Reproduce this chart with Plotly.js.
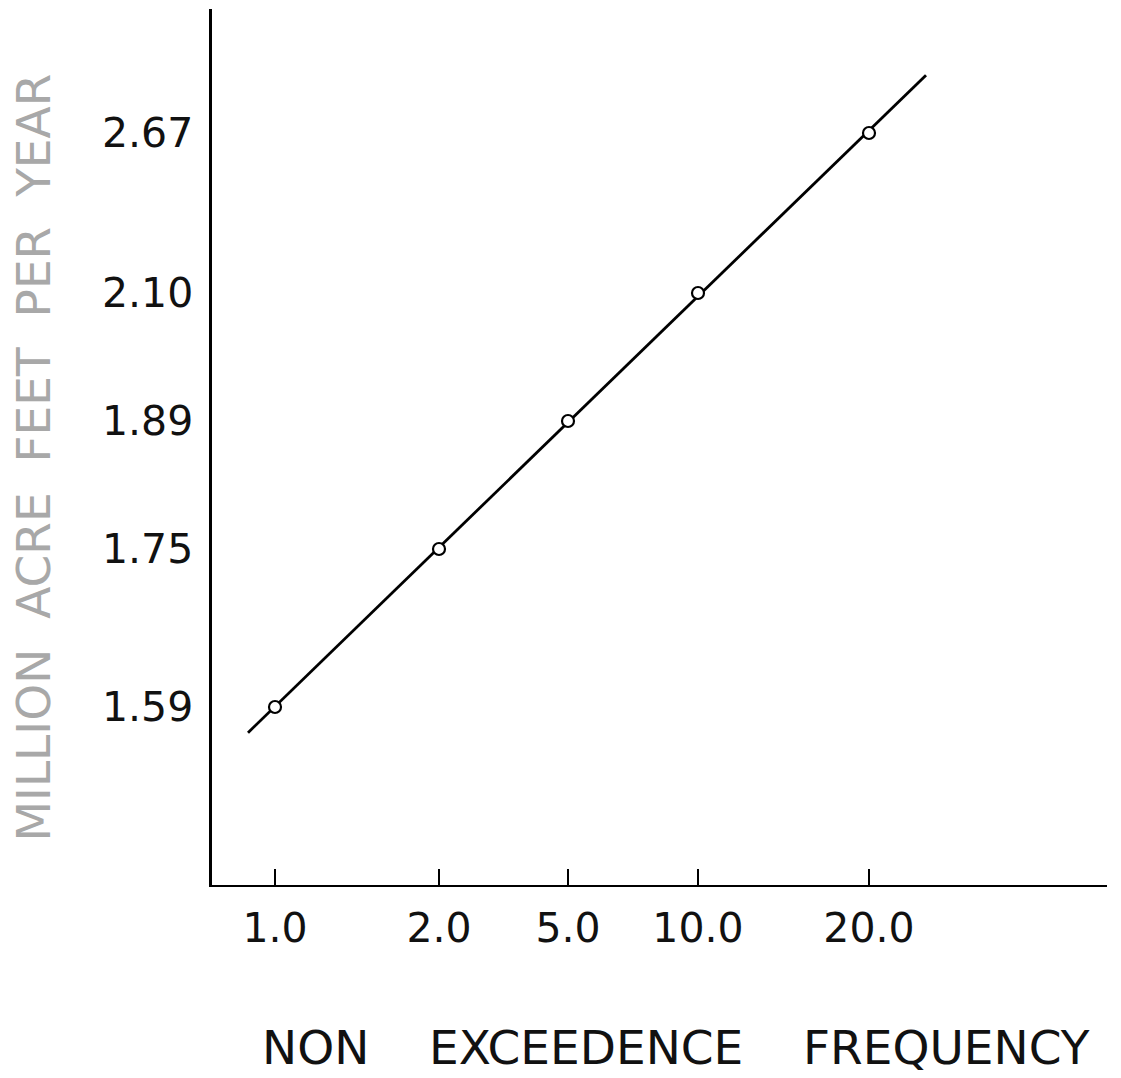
<!DOCTYPE html>
<html>
<head>
<meta charset="utf-8">
<script src="https://cdn.plot.ly/plotly-3.0.1.min.js"></script>
<style>
  html, body { margin: 0; padding: 0; background: #ffffff; }
  #chart { width: 1121px; height: 1078px; }
</style>
</head>
<body>
<div id="chart"></div>
<script>
// ---- Data ----
const freqLabels = ['1.0', '2.0', '5.0', '10.0', '20.0'];
const freqValues = [1.0, 2.0, 5.0, 10.0, 20.0];
const flowLabels = ['1.59', '1.75', '1.89', '2.10', '2.67'];
const flowValues = [1.59, 1.75, 1.89, 2.10, 2.67];

// ---- Probability-paper rulings (axis scale, not marks) ----
// position of each ruling along the paper, in paper scale units
const freqRuling = [0.63, 2.27, 3.56, 4.86, 6.57];
const flowRuling = [1.78, 3.36, 4.64, 5.92, 7.52];

function scaleX(f) { return freqRuling[freqValues.indexOf(f)]; }
function scaleY(q) { return flowRuling[flowValues.indexOf(q)]; }

const px = freqValues.map(scaleX);
const py = flowValues.map(scaleY);

// least-squares fitted line on the probability paper
const n = px.length;
const mx = px.reduce((a, b) => a + b, 0) / n;
const my = py.reduce((a, b) => a + b, 0) / n;
let sxy = 0, sxx = 0;
for (let i = 0; i < n; i++) { sxy += (px[i] - mx) * (py[i] - my); sxx += (px[i] - mx) ** 2; }
const slope = sxy / sxx;
const icpt = my - slope * mx;
const extLow = 0.27, extHigh = 0.57;   // how far the drawn line runs past the end points
const lx = [px[0] - extLow, px[n - 1] + extHigh];
const ly = lx.map(x => icpt + slope * x);

const traces = [
  {
    x: lx, y: ly, type: 'scatter', mode: 'lines',
    line: { color: '#000000', width: 2.8 },
    hoverinfo: 'skip', showlegend: false
  },
  {
    x: px, y: py, type: 'scatter', mode: 'markers',
    marker: { symbol: 'circle', size: 12, color: '#ffffff', line: { color: '#000000', width: 2.2 } },
    text: freqLabels.map((f, i) => f + ': ' + flowLabels[i]),
    hoverinfo: 'text', showlegend: false
  }
];

const layout = {
  width: 1121, height: 1078,
  margin: { l: 212, r: 14, t: 9, b: 193 },
  paper_bgcolor: '#ffffff', plot_bgcolor: '#ffffff',
  font: { family: 'DejaVu Sans, sans-serif', color: '#000000' },
  showlegend: false,
  xaxis: {
    range: [0, 8.95], showgrid: false, zeroline: false,
    showline: true, linecolor: '#000000', linewidth: 2,
    tickmode: 'array', tickvals: freqRuling, ticktext: freqLabels,
    ticks: 'inside', ticklen: 16, tickwidth: 2, tickcolor: '#000000',
    tickfont: { family: 'DejaVu Sans, sans-serif', size: 41, color: '#111111' },
    ticklabelstandoff: 6
  },
  yaxis: {
    range: [0, 8.76], showgrid: false, zeroline: false,
    showline: true, linecolor: '#000000', linewidth: 3.5,
    tickmode: 'array', tickvals: flowRuling, ticktext: flowLabels,
    ticks: '',
    tickfont: { family: 'DejaVu Sans, sans-serif', size: 41, color: '#111111' },
    ticklabelstandoff: 7
  },
  annotations: [
    {
      text: 'NON \u00a0\u00a0\u00a0EXCEEDENCE \u00a0\u00a0\u00a0FREQUENCY',
      xref: 'paper', yref: 'paper', x: 0, y: 0,
      xanchor: 'left', yanchor: 'bottom',
      xshift: 48, yshift: -192,
      showarrow: false,
      font: { family: 'DejaVu Sans, sans-serif', size: 47, color: '#111111' }
    },
    {
      text: 'MILLION \u00a0ACRE \u00a0FEET \u00a0PER \u00a0YEAR',
      xref: 'paper', yref: 'paper', x: 0, y: 0.488,
      xanchor: 'center', yanchor: 'middle',
      xshift: -178, textangle: -90,
      showarrow: false,
      font: { family: 'DejaVu Sans, sans-serif', size: 47, color: '#a8a8a8' }
    }
  ]
};

Plotly.newPlot('chart', traces, layout, { displayModeBar: false, staticPlot: true });
</script>
</body>
</html>
